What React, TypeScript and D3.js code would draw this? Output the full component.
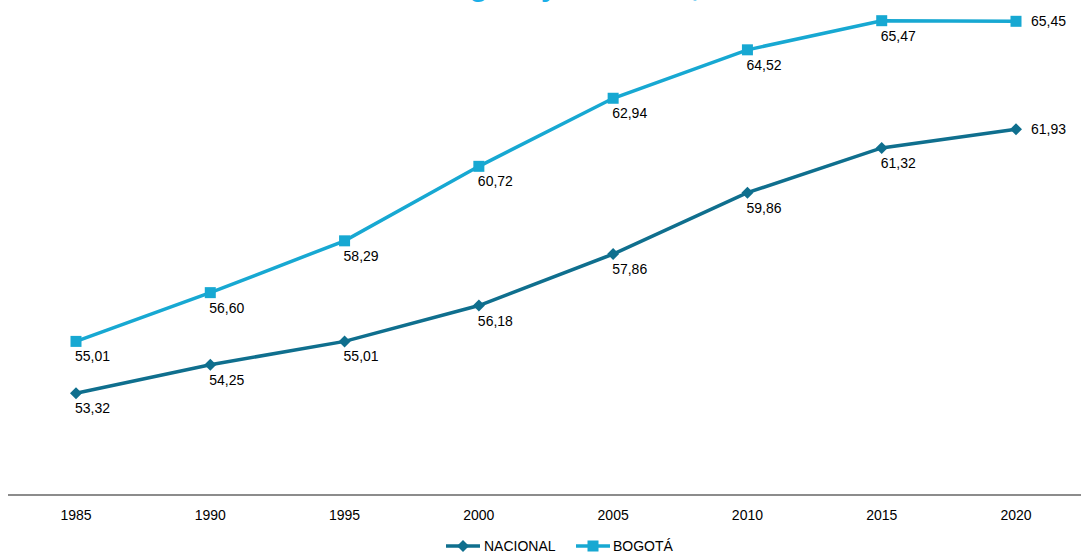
import React from "react";
import * as d3 from "d3";

const years = [1985, 1990, 1995, 2000, 2005, 2010, 2015, 2020];
const nacional = [53.32, 54.25, 55.01, 56.18, 57.86, 59.86, 61.32, 61.93];
const bogota = [55.01, 56.6, 58.29, 60.72, 62.94, 64.52, 65.47, 65.45];
const seriesNames = ["NACIONAL", "BOGOTÁ"];
const titleText = "Evolución del indicador Bogotá y Nacional, 1985-2020";

const W = 1081;
const H = 554;
const C_NAC = "#0F6F8E";
const C_BOG = "#17A8D2";
const FONT = "Liberation Sans, Arial, sans-serif";

const fmt = (v: number) => d3.format(".2f")(v).replace(".", ",");

export default function App() {
  const x = d3.scalePoint<number>().domain(years).range([76, 1016]);
  const y = d3.scaleLinear().domain([50, 66]).range([495, 495 - 16 * 30.66]);
  const line = d3
    .line<number>()
    .x((_, i) => x(years[i]) as number)
    .y((d) => y(d));

  const diamond = (cx: number, cy: number, r: number) =>
    `M${cx},${cy - r}L${cx + r},${cy}L${cx},${cy + r}L${cx - r},${cy}Z`;

  const n = years.length;

  return (
    <svg
      width={W}
      height={H}
      style={{ position: "absolute", left: 0, top: 0, background: "#fff" }}
      fontFamily={FONT}
    >
      <text
        x={467}
        y={-4}
        textAnchor="middle"
        fontSize={30}
        fontWeight="bold"
        fill="#1AAFE8"
      >
        {titleText}
      </text>

      {/* axis */}
      <line x1={8} x2={W} y1={y(50)} y2={y(50)} stroke="#8C8C8C" strokeWidth={2} />
      {years.map((yr) => (
        <text
          key={yr}
          x={x(yr)}
          y={520}
          textAnchor="middle"
          fontSize={14}
          fill="#000"
        >
          {yr}
        </text>
      ))}

      {/* BOGOTA */}
      <path d={line(bogota) || ""} fill="none" stroke={C_BOG} strokeWidth={3.5} />
      {bogota.map((v, i) => (
        <rect
          key={"b" + i}
          x={(x(years[i]) as number) - 5.5}
          y={y(v) - 5.5}
          width={11}
          height={11}
          fill={C_BOG}
        />
      ))}
      {bogota.map((v, i) =>
        i === n - 1 ? (
          <text key={"bl" + i} x={(x(years[i]) as number) + 15} y={y(v) + 5} fontSize={14}>
            {fmt(v)}
          </text>
        ) : (
          <text key={"bl" + i} x={(x(years[i]) as number) - 1} y={y(v) + 20} fontSize={14}>
            {fmt(v)}
          </text>
        )
      )}

      {/* NACIONAL */}
      <path d={line(nacional) || ""} fill="none" stroke={C_NAC} strokeWidth={3.5} />
      {nacional.map((v, i) => (
        <path key={"n" + i} d={diamond(x(years[i]) as number, y(v), 6)} fill={C_NAC} />
      ))}
      {nacional.map((v, i) =>
        i === n - 1 ? (
          <text key={"nl" + i} x={(x(years[i]) as number) + 15} y={y(v) + 5} fontSize={14}>
            {fmt(v)}
          </text>
        ) : (
          <text key={"nl" + i} x={(x(years[i]) as number) - 1} y={y(v) + 20} fontSize={14}>
            {fmt(v)}
          </text>
        )
      )}

      {/* legend */}
      <g>
        <line x1={446} x2={480} y1={546} y2={546} stroke={C_NAC} strokeWidth={3.5} />
        <path d={diamond(463, 546, 6)} fill={C_NAC} />
        <text x={484} y={551} fontSize={14}>
          {seriesNames[0]}
        </text>
        <line x1={576} x2={610} y1={546} y2={546} stroke={C_BOG} strokeWidth={3.5} />
        <rect x={587.5} y={540.5} width={11} height={11} fill={C_BOG} />
        <text x={613} y={551} fontSize={14}>
          {seriesNames[1]}
        </text>
      </g>
    </svg>
  );
}
